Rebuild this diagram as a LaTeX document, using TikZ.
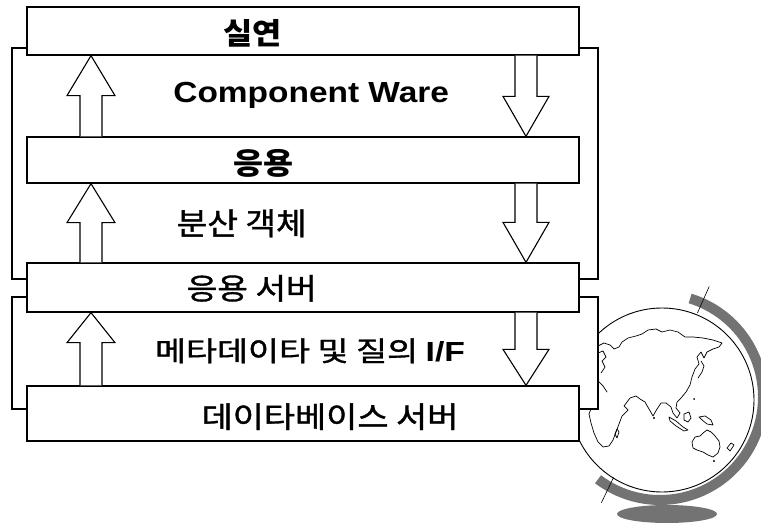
\documentclass[tikz,border=0pt]{standalone}
\usepackage{fontspec}
\setmainfont{Liberation Sans}
\newfontfamily\kr{Noto Sans CJK KR}
\newfontfamily\krm[FakeBold=1.2]{Noto Sans CJK KR}
\usetikzlibrary{calc}

% set a label to a fixed ink width and total height
\newcommand\fitto[3]{\resizebox*{#1bp}{#2bp}{#3}}

% hollow block arrow pointing up from the top of #1 to the bottom of #2, head length #3
\newcommand\blkup[3]{%
  \draw[blk] ($(#1.north -| ux)+(-11,0)$) -- ($(#2.south -| ux)+(-11,#3)$)
    -- ($(#2.south -| ux)+(-24,#3)$) -- (#2.south -| ux) -- ($(#2.south -| ux)+(24,#3)$)
    -- ($(#2.south -| ux)+(11,#3)$) -- ($(#1.north -| ux)+(11,0)$);}
% hollow block arrow pointing down from the bottom of #1 to the top of #2, head length #3
\newcommand\blkdown[3]{%
  \draw[blk] ($(#1.south -| dx)+(-11,0)$) -- ($(#2.north -| dx)+(-11,-#3)$)
    -- ($(#2.north -| dx)+(-23,-#3)$) -- (#2.north -| dx) -- ($(#2.north -| dx)+(23,-#3)$)
    -- ($(#2.north -| dx)+(11,-#3)$) -- ($(#1.south -| dx)+(11,0)$);}

\begin{document}
\begin{tikzpicture}[x=1bp,y=-1bp,
  layer/.style={draw=black, line width=1.3bp, fill=white, inner sep=0pt, minimum width=552bp},
  frame/.style={draw=black, line width=1.1bp, fill=white},
  blk/.style={draw=black, line width=1.1bp, fill=white, line join=miter},
  lbl/.style={inner sep=0pt, anchor=center},
  coast/.style={draw=black, line width=0.7bp, line join=round, line cap=round},
  ring/.style={fill=black!55},
  pin/.style={draw=black, line width=0.6bp},
]
\useasboundingbox (0,0) rectangle (761,528);

% ---------- globe ----------
% y runs downwards, so polar angles below are mirrored (negative = upper half)
\coordinate (gc) at (660,397);
\fill[ring] (667,514) ellipse [x radius=50, y radius=9];
\draw[fill=white, line width=0.9bp] (662,400) circle [radius=92];
\fill[ring] ($(gc)+(-73:108)$) arc [start angle=-73, end angle=127, radius=108]
  -- ($(gc)+(127:98)$) arc [start angle=127, end angle=-73, radius=98] -- cycle;
\draw[pin] ($(gc)+(-66:92)$) -- ($(gc)+(-66:121)$);
\draw[pin] ($(gc)+(120:93)$) -- ($(gc)+(119:121)$);

% continents
\draw[coast] (598,346) -- (604,343) -- (610,345) -- (614,349) -- (619,347) -- (622,342)
  -- (628,338) -- (636,336) -- (642,334) -- (648,330) -- (656,329) -- (662,332) -- (670,330)
  -- (678,332) -- (685,337) -- (693,337) -- (703,338) -- (713,340) -- (722,343) -- (719,347)
  -- (713,349) -- (707,352) -- (704,358) -- (701,352) -- (697,357) -- (699,364) -- (695,369)
  -- (692,377) -- (690,385) -- (686,392) -- (681,398) -- (677,402) -- (676,408) -- (680,413)
  -- (677,418) -- (673,413) -- (671,407) -- (666,403) -- (661,403) -- (657,409) -- (653,416)
  -- (649,409) -- (645,402) -- (640,399) -- (636,396) -- (630,398) -- (627,402) -- (624,406)
  -- (628,410) -- (622,416) -- (619,424) -- (616,432) -- (613,440) -- (609,446) -- (603,447)
  -- (598,442) -- (594,433) -- (591,423) -- (589,414) -- (592,406);
\draw[coast] (598,353) -- (603,351) -- (606,357) -- (602,361) -- (605,367) -- (601,373);
\draw[coast] (598,381) -- (603,386) -- (607,392);
\draw[coast] (701,361) -- (704,366) -- (702,372) -- (698,378);
\draw[coast] (669,417) -- (676,421) -- (683,427) -- (688,430) -- (684,431) -- (676,426) -- (670,421) -- cycle;
\draw[coast] (684,414) -- (689,412) -- (691,418) -- (688,422) -- (684,420) -- cycle;
\draw[coast] (699,417) -- (705,416) -- (711,420) -- (713,425) -- (707,424) -- (702,420) -- cycle;
\draw[coast] (692,442) -- (695,437) -- (700,436) -- (703,433) -- (707,430) -- (711,432)
  -- (715,436) -- (719,441) -- (720,447) -- (718,453) -- (713,457) -- (708,455) -- (703,452)
  -- (697,450) -- (693,448) -- cycle;
\draw[coast] (727,448) -- (731,443) -- (734,445) -- (730,451) -- cycle;
\draw[coast] (617,429) -- (619,432) -- (617,438) -- (615,434) -- cycle;
\fill (654,418) circle [radius=1.2];
\fill (694,399) circle [radius=1];
\fill (714,461) circle [radius=1.1];

% ---------- grouping frames ----------
\draw[frame] (12,48) rectangle (598,279);
\draw[frame] (12,297) rectangle (598,409);

% ---------- layers ----------
\node[layer, minimum height=48bp] (b1) at (303,31) {};
\node[layer, minimum height=46bp] (b2) at (303,160) {};
\node[layer, minimum height=49bp] (b3) at (303,287.5) {};
\node[layer, minimum height=55bp] (b4) at (303,413.5) {};

% ---------- arrows ----------
\coordinate (ux) at (91,0);
\coordinate (dx) at (526,0);
\blkup{b2}{b1}{40}
\blkdown{b1}{b2}{40}
\blkup{b3}{b2}{39}
\blkdown{b2}{b3}{40}
\blkup{b4}{b3}{30}
\blkdown{b3}{b4}{36}

% ---------- labels ----------
\node[lbl] (t1) at (252.5,33.8) {\fitto{58.4}{27.7}{\kr\bfseries 실연}};
\node[lbl] (t2) at (311.2,95.8) {\fitto{275.7}{26.3}{\bfseries Component Ware}};
\node[lbl] (t3) at (263.3,163.3) {\fitto{60}{28}{\kr\bfseries 응용}};
\node[lbl] (t4) at (241.7,223.3) {\fitto{130}{28}{\krm 분산 객체}};
\node[lbl] (t5) at (251.7,288.3) {\fitto{130}{26.7}{\krm 응용 서버}};
\node[lbl] (t6) at (310,350.8) {\fitto{310}{25}{\krm 메타데이타 및 질의 \normalfont\bfseries I/F}};
\node[lbl] (t7) at (330,416.7) {\fitto{256.6}{26.7}{\krm 데이타베이스 서버}};
\end{tikzpicture}
\end{document}
